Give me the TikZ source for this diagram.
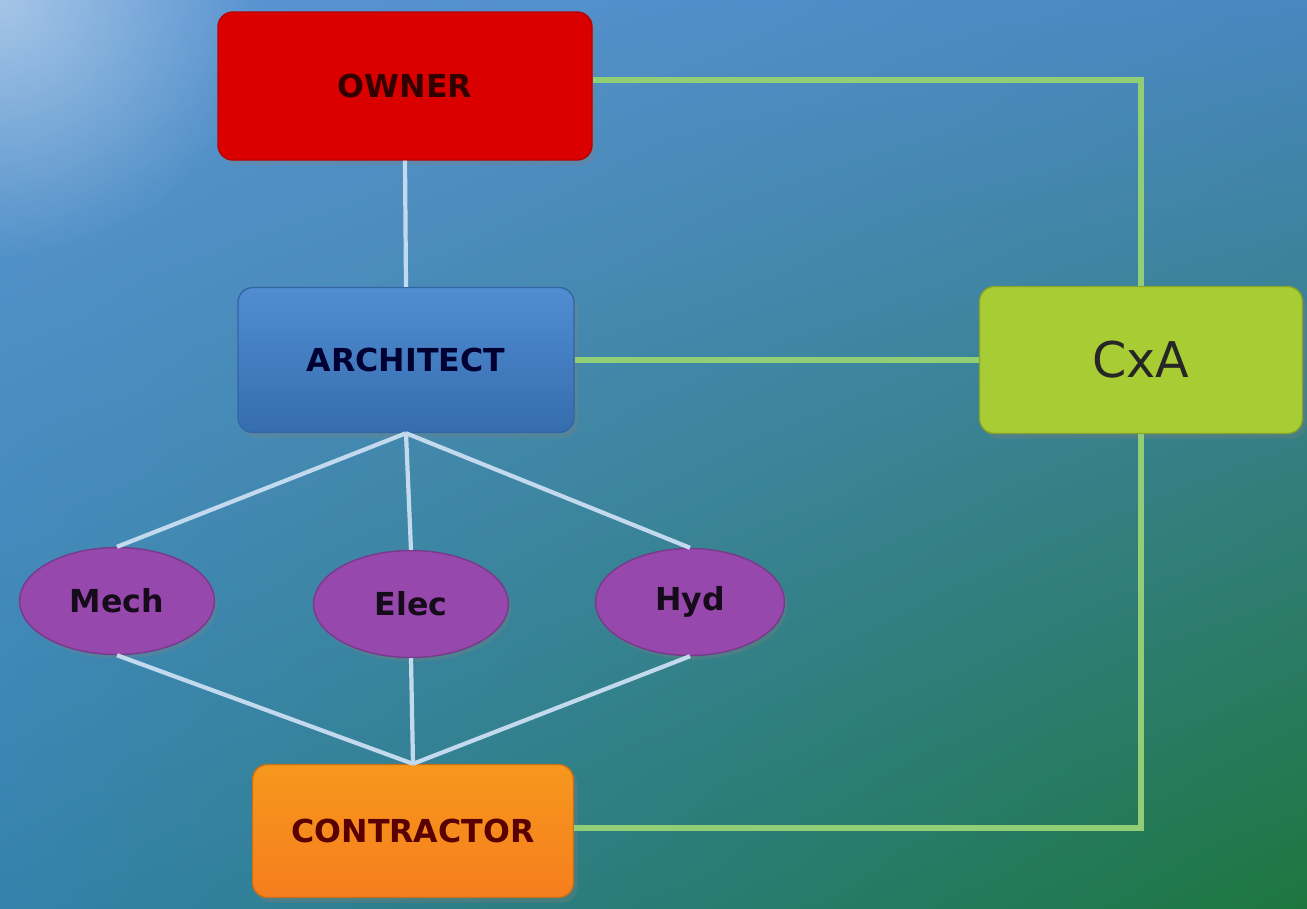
\documentclass[tikz,border=0pt]{standalone}
\usepackage{fontspec}
\setmainfont{DejaVu Sans}
\usepackage{tikz}
\usetikzlibrary{shapes.geometric,shadows,shadings,fadings}

\definecolor{bgUL}{RGB}{92,150,212}
\definecolor{bgUR}{RGB}{72,135,192}
\definecolor{bgLL}{RGB}{52,130,172}
\definecolor{bgLR}{RGB}{30,118,62}
\definecolor{ownerred}{RGB}{218,0,0}
\definecolor{archblue}{RGB}{62,128,205}
\definecolor{cxagreen}{RGB}{168,204,52}
\definecolor{tradepurple}{RGB}{150,72,172}
\definecolor{controrange}{RGB}{245,140,32}
\definecolor{treeline}{RGB}{195,218,238}
\definecolor{cxaline}{RGB}{145,206,118}

\tikzfading[name=glowfade, inner color=transparent!0, outer color=transparent!100]

\begin{document}
\begin{tikzpicture}[
  box/.style={rounded corners=0.15cm, font=\bfseries\fontsize{9}{10}\selectfont,
    drop shadow={opacity=0.3, shadow xshift=0.04cm, shadow yshift=-0.05cm}},
  trade/.style={ellipse, fill=tradepurple, draw=tradepurple!80!black, inner sep=0pt,
    minimum width=1.95cm, minimum height=1.07cm, font=\bfseries\fontsize{9}{10}\selectfont,
    text=black!85!tradepurple,
    drop shadow={opacity=0.3, shadow xshift=0.03cm, shadow yshift=-0.04cm}},
  tree/.style={treeline, line width=1.2pt},
  cxalink/.style={cxaline, line width=1.7pt}
]
% Background
\useasboundingbox (0,0) rectangle (13.07,-9.08);
\shade[upper left=bgUL, upper right=bgUR, lower left=bgLL, lower right=bgLR] (0,0) rectangle (13.07,-9.08);
\begin{scope}
  \clip (0,0) rectangle (13.07,-9.08);
  \fill[white, opacity=0.45, path fading=glowfade] (0,0) circle (2.6cm);
\end{scope}

% Owner
\node[box, fill=ownerred, draw=ownerred!85!black, minimum width=3.74cm, minimum height=1.48cm, text=black!80!red] (owner) at (4.05,-0.86) {OWNER};

% Architect
\node[box, top color=archblue!90!white, bottom color=archblue!85!black, draw=archblue!80!black, minimum width=3.36cm, minimum height=1.45cm, text=black!80!blue] (architect) at (4.06,-3.60) {ARCHITECT};

% Commissioning authority
\node[box, fill=cxagreen, draw=cxagreen!80!black, minimum width=3.23cm, minimum height=1.47cm, font=\fontsize{14}{16}\selectfont, text=black!85] (cxa) at (11.41,-3.60) {CxA};

% Trades
\node[trade] (mech) at (1.17,-6.01) {Mech};
\node[trade] (elec) at (4.11,-6.04) {Elec};
\node[trade, minimum width=1.89cm] (hyd) at (6.90,-6.02) {Hyd};

% Contractor
\node[box, top color=controrange!90!yellow, bottom color=controrange!90!red, draw=controrange!80!black, minimum width=3.21cm, minimum height=1.33cm, text=black!65!red] (contractor) at (4.13,-8.31) {CONTRACTOR};

% Lines
\draw[tree] (owner.south) -- (architect.north);
\draw[tree] (architect.south) -- (mech.north);
\draw[tree] (architect.south) -- (elec.north);
\draw[tree] (architect.south) -- (hyd.north);
\draw[tree] (mech.south) -- (contractor.north);
\draw[tree] (elec.south) -- (contractor.north);
\draw[tree] (hyd.south) -- (contractor.north);
\draw[cxalink] ([yshift=0.06cm]owner.east) -| (cxa.north);
\draw[cxalink] (architect.east) -- (cxa.west);
\draw[cxalink] (cxa.south) |- ([yshift=0.03cm]contractor.east);

\end{tikzpicture}
\end{document}
